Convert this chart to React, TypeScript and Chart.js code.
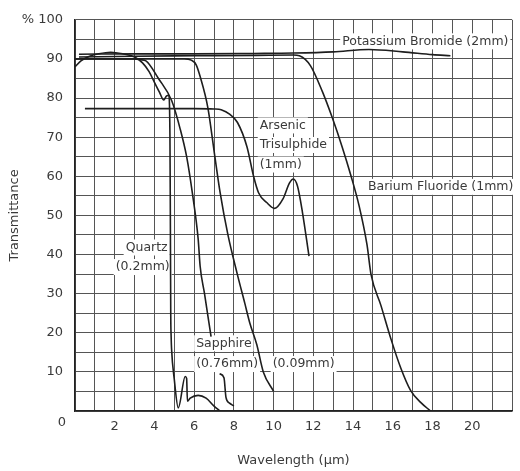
import React, { useEffect, useRef } from "react";
import { Chart, registerables } from "chart.js";

Chart.register(...registerables);

// ---- Data (wavelength in µm, transmittance in %) ----
const kbrX = [0.2, 3, 6, 9, 11, 13, 14.8, 16.5, 18, 18.9];
const kbrY = [91.2, 91.3, 91.3, 91.4, 91.5, 91.8, 92.4, 91.8, 91.1, 90.8];

const bafX = [0.2, 3, 6, 9, 11.0, 11.3, 11.85, 12.45, 12.95, 13.45, 13.9, 14.3, 14.7, 14.9, 15.4, 15.9, 16.4, 16.9, 17.4, 17.9];
const bafY = [90.5, 90.7, 90.8, 90.9, 91.0, 90.8, 88.3, 81.7, 75, 67.5, 60, 52.5, 42.5, 35, 27, 18.5, 11, 5.2, 2.2, 0];

const asX = [0.5, 3, 6, 7.0, 7.36, 7.8, 8.18, 8.66, 8.99, 9.24, 9.65, 10.05, 10.47, 10.8, 10.99, 11.2, 11.45, 11.78];
const asY = [77.3, 77.3, 77.3, 77.2, 77.0, 75.8, 73.75, 67.5, 60, 55.8, 53.3, 51.8, 54.2, 58.3, 59.3, 57.5, 50.8, 39.6];

const quartzX = [0, 0.3, 0.7, 1.2, 1.8, 2.4, 3.0, 3.4, 3.73, 4.0, 4.25, 4.47, 4.6, 4.72, 4.78, 4.8, 4.82, 4.84, 4.86, 5.0, 5.2, 5.55, 5.62, 5.66, 5.8, 6.2, 6.6, 7.0, 7.3];
const quartzY = [88, 89.5, 90.6, 91.3, 91.7, 91.3, 90.5, 89, 86.75, 84, 81.5, 79.5, 80.5, 80.7, 70, 50, 25, 19, 16, 8, 0.8, 8.8, 8.3, 2.5, 3.3, 4, 3.3, 1.25, 0];

const sap76X = [0, 1.5, 3.0, 3.3, 3.57, 4.2, 4.87, 5.3, 5.62, 5.9, 6.2, 6.3, 6.52, 6.85, 7.0, 7.28, 7.5, 7.6, 7.78, 8.0];
const sap76Y = [90, 90, 90, 89.8, 89.5, 85, 79.3, 72, 65, 56, 44, 37, 30, 19, null, 9.5, 8.5, 3.5, 2, 1.3];

const sap09X = [0, 3, 5.5, 5.85, 6.1, 6.3, 6.69, 7.02, 7.3, 7.7, 8.17, 8.55, 8.8, 9.15, 9.48, 10.0];
const sap09Y = [90, 90, 90, 89.7, 88.5, 85.5, 77.5, 65.8, 56, 45, 35, 27.5, 22.5, 17, 10, 5];

const xTickLabels = [2, 4, 6, 8, 10, 12, 14, 16, 18, 20];
const yTickLabels = [10, 20, 30, 40, 50, 60, 70, 80, 90];

// annotation texts, anchored in data coordinates (left x, centre y)
const notes: { text: string; x: number; y: number }[] = [
  { text: "Potassium Bromide (2mm)", x: 13.45, y: 94.5 },
  { text: "Arsenic", x: 9.3, y: 73 },
  { text: "Trisulphide", x: 9.3, y: 68 },
  { text: "(1mm)", x: 9.3, y: 63 },
  { text: "Barium Fluoride (1mm)", x: 14.75, y: 57.3 },
  { text: "Quartz", x: 2.55, y: 41.8 },
  { text: "(0.2mm)", x: 2.05, y: 36.8 },
  { text: "Sapphire", x: 6.1, y: 17.3 },
  { text: "(0.76mm)", x: 6.1, y: 12 },
  { text: "(0.09mm)", x: 9.95, y: 12 },
];

const zip = (xs: number[], ys: (number | null)[]) => xs.map((x, i) => ({ x, y: ys[i] }));

const FONT = "'DejaVu Sans', sans-serif";
const TEXT = "#3a3a3a";
const LINE = "#1e1e1e";

export default function App() {
  const ref = useRef<HTMLCanvasElement>(null);

  useEffect(() => {
    if (!ref.current) return;
    const mk = (data: any) => ({
      data,
      borderColor: LINE,
      borderWidth: 1.6,
      pointRadius: 0,
      fill: false,
      cubicInterpolationMode: "monotone" as const,
      spanGaps: false,
    });

    const notesPlugin = {
      id: "notes",
      beforeDatasetsDraw(chart: any) {
        const { ctx, scales } = chart;
        ctx.save();
        ctx.font = `12.5px ${FONT}`;
        ctx.fillStyle = "#ffffff";
        for (const n of notes) {
          const px = scales.x.getPixelForValue(n.x);
          const py = scales.y.getPixelForValue(n.y);
          const w = ctx.measureText(n.text).width;
          ctx.fillRect(px - 2, py - 8, w + 4, 16);
        }
        ctx.restore();
      },
      afterDatasetsDraw(chart: any) {
        const { ctx, scales, chartArea } = chart;
        ctx.save();
        ctx.font = `12.5px ${FONT}`;
        ctx.fillStyle = TEXT;
        ctx.textBaseline = "middle";
        ctx.textAlign = "left";
        for (const n of notes) {
          ctx.fillText(n.text, scales.x.getPixelForValue(n.x), scales.y.getPixelForValue(n.y));
        }
        ctx.font = `13px ${FONT}`;
        ctx.textAlign = "center";
        ctx.fillText("0", chartArea.left - 13, scales.y.getPixelForValue(0) + 12);
        ctx.restore();
      },
    };

    const chart = new Chart(ref.current, {
      type: "line",
      data: {
        datasets: [
          mk(zip(kbrX, kbrY)),
          mk(zip(bafX, bafY)),
          mk(zip(asX, asY)),
          mk(zip(quartzX, quartzY)),
          mk(zip(sap76X, sap76Y)),
          mk(zip(sap09X, sap09Y)),
        ],
      },
      options: {
        animation: false,
        responsive: false,
        devicePixelRatio: 1,
        layout: { padding: { top: 10, right: 1, left: 0, bottom: 0 } },
        plugins: { legend: { display: false }, tooltip: { enabled: false } },
        scales: {
          x: {
            type: "linear",
            min: 0,
            max: 22,
            afterFit: (s: any) => {
              s.height = 60;
            },
            ticks: {
              stepSize: 1,
              autoSkip: false,
              maxRotation: 0,
              padding: 8,
              color: TEXT,
              font: { family: FONT, size: 13 },
              callback: (v: any) => (xTickLabels.includes(Number(v)) ? String(v) : ""),
            },
            grid: { color: "#555", lineWidth: 1, drawTicks: false },
            border: { color: "#222", width: 1.5 },
            title: {
              display: true,
              text: "Wavelength (μm)",
              color: TEXT,
              font: { family: FONT, size: 13 },
              padding: { top: 0, bottom: 3 },
            },
          },
          y: {
            type: "linear",
            min: 0,
            max: 100,
            afterFit: (s: any) => {
              s.width = 75;
            },
            ticks: {
              stepSize: 5,
              autoSkip: false,
              padding: 12,
              color: TEXT,
              font: { family: FONT, size: 13 },
              callback: (v: any) => {
                const n = Number(v);
                if (n === 100) return "% 100";
                return yTickLabels.includes(n) ? String(n) : "";
              },
            },
            grid: { color: "#555", lineWidth: 1, drawTicks: false },
            border: { color: "#222", width: 1.5 },
            title: {
              display: true,
              text: "Transmittance",
              color: TEXT,
              font: { family: FONT, size: 13 },
              padding: { top: 7, bottom: 0 },
            },
          },
        },
      },
      plugins: [notesPlugin],
    });
    return () => chart.destroy();
  }, []);

  return (
    <div style={{ position: "absolute", left: 0, top: 0, width: 520, height: 471, background: "#fff" }}>
      <canvas ref={ref} width={520} height={471} style={{ display: "block" }} />
    </div>
  );
}
